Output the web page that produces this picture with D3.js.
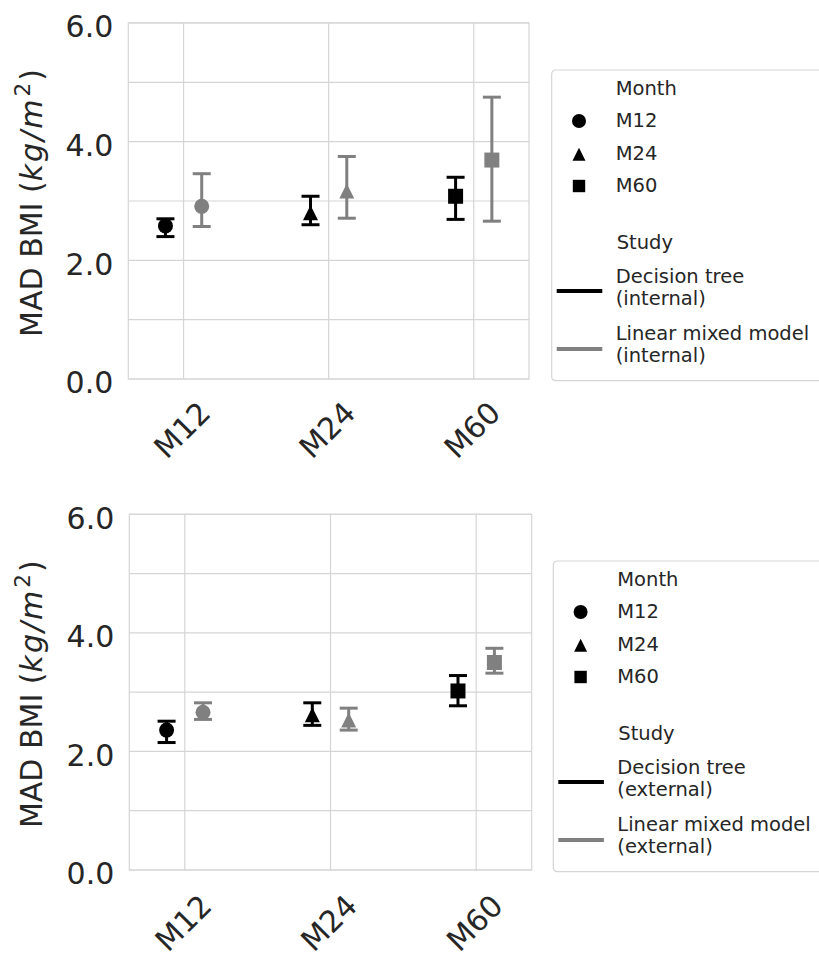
<!DOCTYPE html>
<html><head><meta charset="utf-8">
<script src="https://cdn.jsdelivr.net/npm/d3@7"></script>
<style>body{margin:0;background:#fff} svg text{font-family:"DejaVu Sans",sans-serif}</style>
</head><body><svg id="c" width="819" height="958"></svg>
<script>
// ---- data ----
const months = ["M12", "M24", "M60"];
const yGridValues = [0, 1, 2, 3, 4, 5, 6];
const yTickValues = [0, 2, 4, 6];
const yLabelMain = "MAD BMI (";
const studiesInternal = [["Decision tree", "(internal)"], ["Linear mixed model", "(internal)"]];
const studiesExternal = [["Decision tree", "(external)"], ["Linear mixed model", "(external)"]];

const internalTree = [2.58, 2.80, 3.08];
const internalTreeLo = [2.40, 2.60, 2.69];
const internalTreeHi = [2.70, 3.08, 3.40];
const internalLmm = [2.91, 3.17, 3.69];
const internalLmmLo = [2.57, 2.71, 2.66];
const internalLmmHi = [3.46, 3.75, 4.75];

const externalTree = [2.36, 2.62, 3.02];
const externalTreeLo = [2.15, 2.44, 2.77];
const externalTreeHi = [2.51, 2.82, 3.28];
const externalLmm = [2.66, 2.53, 3.50];
const externalLmmLo = [2.54, 2.36, 3.32];
const externalLmmHi = [2.82, 2.73, 3.74];

// ---- styles ----
const studyColors = ["#000000", "#808080"];
const gridColor = "#d5d5d5";
const textColor = "#262626";
const tickFont = 30, legendFont = 19.5;

const svg = d3.select("#c");

function markerPath(shape, h) {
  if (shape === 0) { const p = d3.path(); p.arc(0, 0, h, 0, 2 * Math.PI); p.closePath(); return p.toString(); }
  if (shape === 1) return `M0,${-h}L${h},${h}L${-h},${h}Z`;
  return `M${-h},${-h}H${h}V${h}H${-h}Z`;
}

function drawPanel(box, series, studies) {
  const g = svg.append("g");
  const x = d3.scaleLinear().domain([-0.381, 2.381]).range([box.left, box.right]);
  const y = d3.scaleLinear().domain([0, 6]).range([box.bottom, box.top]);

  // grid
  g.append("g").selectAll("line").data(yGridValues).join("line")
    .attr("x1", box.left).attr("x2", box.right)
    .attr("y1", d => y(d)).attr("y2", d => y(d))
    .attr("stroke", gridColor).attr("stroke-width", 1.2);
  g.append("g").selectAll("line").data(months.map((m, i) => i)).join("line")
    .attr("x1", d => x(d)).attr("x2", d => x(d))
    .attr("y1", box.top).attr("y2", box.bottom)
    .attr("stroke", gridColor).attr("stroke-width", 1.2);
  g.append("rect").attr("x", box.left).attr("y", box.top)
    .attr("width", box.right - box.left).attr("height", box.bottom - box.top)
    .attr("fill", "none").attr("stroke", gridColor).attr("stroke-width", 1.2);

  // y axis
  const ya = g.append("g").attr("transform", `translate(${box.left},0)`)
    .call(d3.axisLeft(y).tickValues(yTickValues).tickSize(0).tickPadding(15).tickFormat(d3.format(".1f")));
  ya.select(".domain").remove();
  ya.selectAll("text").attr("font-size", tickFont).attr("fill", textColor)
    .attr("font-family", "DejaVu Sans").attr("dy", "0.46em");

  // x axis
  const xa = g.append("g").attr("transform", `translate(0,${box.bottom})`)
    .call(d3.axisBottom(x).tickValues([0, 1, 2]).tickSize(0).tickFormat(i => months[i]));
  xa.select(".domain").remove();
  xa.selectAll("text").attr("font-size", tickFont).attr("fill", textColor)
    .attr("font-family", "DejaVu Sans")
    .attr("text-anchor", "middle").attr("x", -2).attr("y", box.xlabOff).attr("dy", "0.35em")
    .attr("transform", `rotate(-45,-2,${box.xlabOff})`);

  // y label
  const cy = (box.top + box.bottom) / 2 + 2;
  const lab = g.append("text").attr("x", 42).attr("y", cy)
    .attr("transform", `rotate(-90,42,${cy})`).attr("text-anchor", "middle")
    .attr("font-size", tickFont).attr("fill", textColor);
  lab.append("tspan").text(yLabelMain);
  lab.append("tspan").attr("font-style", "italic").attr("letter-spacing", 2).text("kg/m");
  lab.append("tspan").attr("font-size", tickFont * 0.72).attr("dy", -12).attr("dx", 1).text("2");
  lab.append("tspan").attr("dy", 12).attr("dx", 2).text(")");

  // points with error bars
  const dodge = [-0.125, 0.125];
  series.forEach((s, si) => {
    const col = studyColors[si];
    const sg = g.append("g");
    const data = s.v.map((v, i) => ({ i, v, lo: s.lo[i], hi: s.hi[i] }));
    const pts = sg.selectAll("g").data(data).join("g");
    pts.append("line").attr("x1", d => x(d.i + dodge[si])).attr("x2", d => x(d.i + dodge[si]))
      .attr("y1", d => y(d.lo)).attr("y2", d => y(d.hi)).attr("stroke", col).attr("stroke-width", 3);
    ["lo", "hi"].forEach(k => {
      pts.append("line").attr("x1", d => x(d.i + dodge[si]) - 9).attr("x2", d => x(d.i + dodge[si]) + 9)
        .attr("y1", d => y(d[k])).attr("y2", d => y(d[k])).attr("stroke", col).attr("stroke-width", 3);
    });
    pts.append("path").attr("d", d => markerPath(d.i, 7.5))
      .attr("transform", d => `translate(${x(d.i + dodge[si])},${y(d.v)})`).attr("fill", col);
  });

  // legend
  const lg = g.append("g").attr("transform", `translate(${box.legX},${box.legY})`);
  lg.append("rect").attr("x", 0).attr("y", 0).attr("width", 300).attr("height", 310.7)
    .attr("rx", 4).attr("fill", "#fff").attr("stroke", gridColor).attr("stroke-width", 1.2);
  const lt = (txt, xx, yy) => lg.append("text").attr("x", xx).attr("y", yy)
    .attr("font-size", legendFont).attr("fill", textColor).text(txt);
  lt("Month", 64, 25);
  const mY = [51, 84.3, 116];
  const mSize = [7, 6.5, 6.2];
  months.forEach((m, i) => {
    lg.append("path").attr("d", markerPath(i, mSize[i])).attr("transform", `translate(27.3,${mY[i]})`).attr("fill", "#000");
    lt(m, 64, mY[i] + 6);
  });
  lt("Study", 65, 179.3);
  const sBase = [212.5, 269.5], sLine = [221, 279];
  studies.forEach((st, si) => {
    lg.append("line").attr("x1", 5).attr("x2", 50.6).attr("y1", sLine[si]).attr("y2", sLine[si])
      .attr("stroke", studyColors[si]).attr("stroke-width", 4);
    lt(st[0], 64, sBase[si]);
    lt(st[1], 64, sBase[si] + 22.5);
  });
}

drawPanel({ left: 128.3, right: 529, top: 23, bottom: 379, legX: 551.7, legY: 70, xlabOff: 51 },
  [{ v: internalTree, lo: internalTreeLo, hi: internalTreeHi },
   { v: internalLmm, lo: internalLmmLo, hi: internalLmmHi }], studiesInternal);
drawPanel({ left: 129.3, right: 531.7, top: 514.3, bottom: 870, legX: 553.3, legY: 561, xlabOff: 53 },
  [{ v: externalTree, lo: externalTreeLo, hi: externalTreeHi },
   { v: externalLmm, lo: externalLmmLo, hi: externalLmmHi }], studiesExternal);
</script></body></html>
